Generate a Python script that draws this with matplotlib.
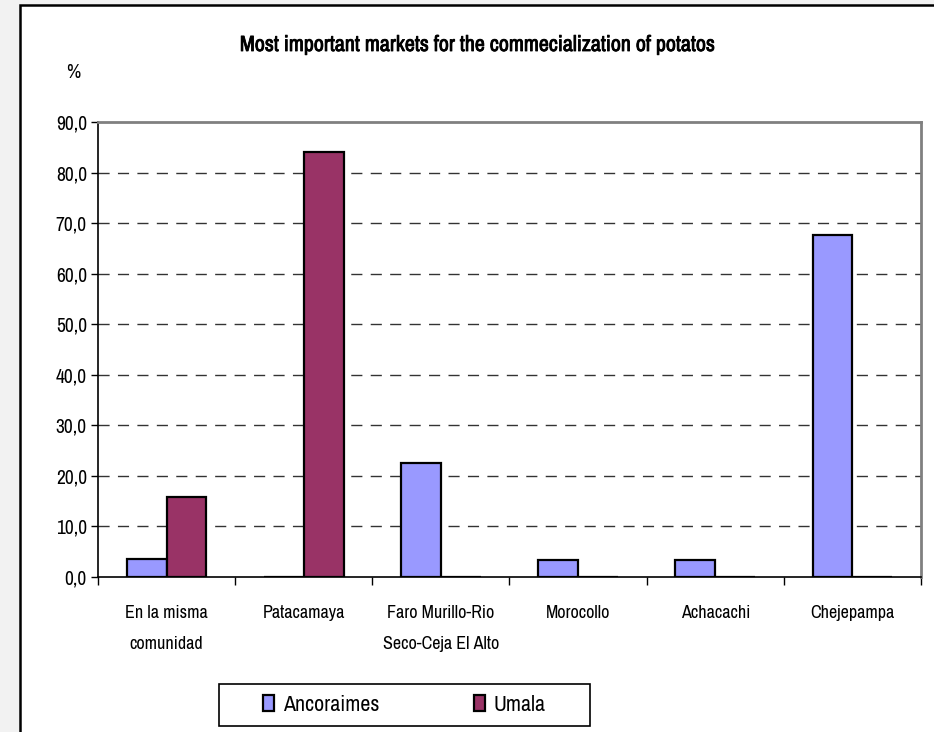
import numpy as np
import matplotlib
matplotlib.use('Agg')
import matplotlib.pyplot as plt
from matplotlib import font_manager
import matplotlib.patheffects as pe
from matplotlib.patches import Rectangle
from matplotlib.ticker import FuncFormatter, FixedLocator

# Fuente estrecha si existe, si no Liberation Sans
fonts = font_manager.fontManager.ttflist
names = sorted({f.name for f in fonts})
narrow = [n for n in names if 'Narrow' in n or 'Condensed' in n]
fam = narrow[0] if narrow else 'Liberation Sans'
k = 1.0 if narrow else 0.88
has_bold = any(f.name == fam and f.weight in ('bold', 700, 'heavy') or
               (f.name == fam and isinstance(f.weight, int) and f.weight >= 600)
               for f in fonts)
plt.rcParams['font.family'] = [fam, 'DejaVu Sans']

# Datos
markets = ['En la misma\ncomunidad', 'Patacamaya', 'Faro Murillo-Rio\nSeco-Ceja El Alto',
           'Morocollo', 'Achacachi', 'Chejepampa']
ancoraimes = [3.5, 0.0, 22.5, 3.4, 3.4, 67.6]
umala = [15.8, 84.1, 0.0, 0.0, 0.0, 0.0]
yticks = np.arange(0, 91, 10)

W, H = 934, 732
fig = plt.figure(figsize=(W / 100, H / 100), dpi=100)
fig.patch.set_facecolor('#f2f2f2')

# marco blanco del gráfico
fig.patches.append(Rectangle((20 / W, -0.05), 1.0, (H - 5) / H + 0.05,
                             transform=fig.transFigure, facecolor='white',
                             edgecolor='black', linewidth=1.8, zorder=-1))

ax = fig.add_axes([98 / W, (H - 577) / H, (921 - 98) / W, (577 - 122) / H])
ax.set_zorder(2)
x = np.arange(len(markets))
w = 0.29
ax.bar(x - w / 2, ancoraimes, w, color='#9999FF', edgecolor='black',
       linewidth=1.6, label='Ancoraimes', zorder=3)
ax.bar(x + w / 2, umala, w, color='#993366', edgecolor='black',
       linewidth=1.6, label='Umala', zorder=3)

ax.set_xlim(-0.5, len(markets) - 0.5)
ax.set_ylim(0, 90)
ax.set_yticks(yticks)
ax.yaxis.set_major_formatter(FuncFormatter(lambda v, p: f'{v:.1f}'.replace('.', ',')))
ax.tick_params(axis='y', labelsize=14 * k, length=5, width=1, pad=3)

# marcas en los límites de categoría, etiquetas en el centro
ax.xaxis.set_major_locator(FixedLocator(np.arange(-0.5, len(markets), 1.0)))
ax.xaxis.set_minor_locator(FixedLocator(x))
ax.set_xticklabels([], minor=False)
ax.set_xticklabels(markets, minor=True, linespacing=2.15)
ax.tick_params(axis='x', which='major', length=6, width=1)
ax.tick_params(axis='x', which='minor', length=0, labelsize=13 * k, pad=20)

for v in yticks[1:-1]:
    ax.axhline(v, color='#333333', linestyle=(0, (8, 6)), linewidth=1, zorder=1)

for s in ['left', 'bottom']:
    ax.spines[s].set_color('black')
    ax.spines[s].set_linewidth(1.2)
for s in ['top', 'right']:
    ax.spines[s].set_color('#808080')
    ax.spines[s].set_linewidth(2)

title = fig.text(478 / W, 1 - 45 / H,
                 'Most important markets for the commecialization of potatos',
                 ha='center', va='center', fontsize=(14.6 if has_bold else 15.8) * k,
                 fontweight='bold')
if not has_bold:
    title.set_path_effects([pe.withStroke(linewidth=0.6, foreground='black')])
fig.text(73 / W, 1 - 72 / H, '%', ha='center', va='center', fontsize=14 * k)

leg = fig.legend(loc='center', ncol=2,
                 bbox_to_anchor=(219 / W, (H - 726) / H, 371 / W, 42 / H),
                 fontsize=15.8 * k, handlelength=0.5, handleheight=0.75, handletextpad=0.4,
                 columnspacing=4.3, borderaxespad=0, fancybox=False,
                 edgecolor='black', framealpha=1)
leg.set_zorder(3)
# recuadro de la leyenda con tamaño fijo
fig.patches.append(Rectangle((219 / W, (H - 726) / H), 371 / W, 42 / H,
                             transform=fig.transFigure, facecolor='white',
                             edgecolor='black', linewidth=1.2, zorder=1))
leg.get_frame().set_visible(False)

fig.savefig('out.png', dpi=100, facecolor=fig.get_facecolor())
